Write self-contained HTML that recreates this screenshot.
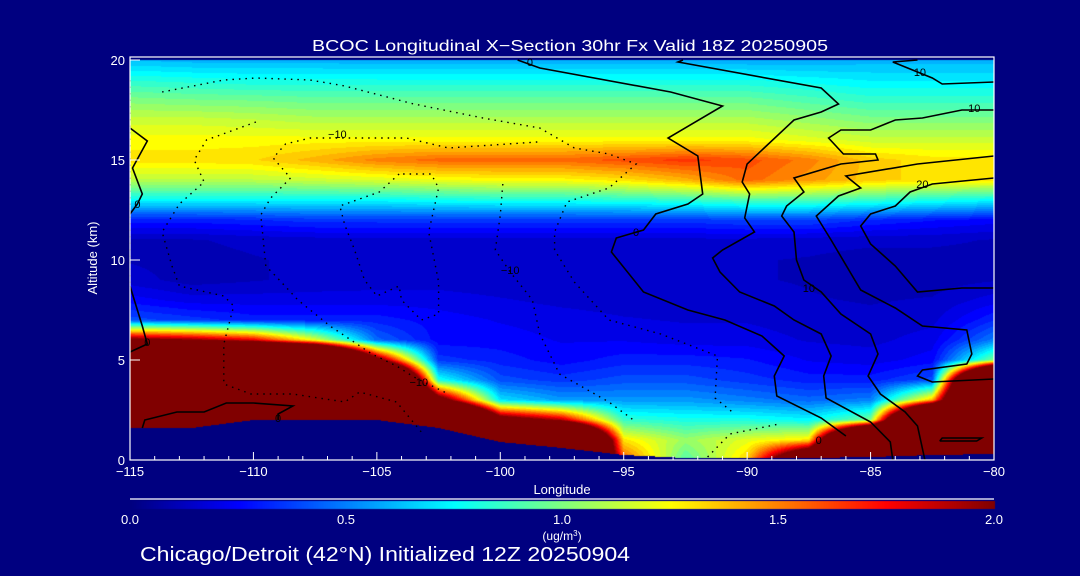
<!DOCTYPE html>
<html><head><meta charset="utf-8">
<style>
html,body{margin:0;padding:0;background:#000080;}
#wrap{position:relative;width:1080px;height:576px;background:#000080;overflow:hidden;font-family:"Liberation Sans",sans-serif;color:#fff;}
canvas{position:absolute;left:0;top:0;}
svg{position:absolute;left:0;top:0;}
</style></head>
<body>
<div id="wrap">
<canvas id="field" width="1080" height="576"></canvas>
<svg id="ov" width="1080" height="576"></svg>
</div>
<script>
const lons = [-115,-112.5,-110,-107.5,-105,-102.5,-100,-97.5,-95,-92.5,-90,-87.5,-85,-82.5,-80];
const alts = [0,1,2,3,4,5,6,7,8,9,10,11,12,13,14,15,16,17,18,19,20];
const conc = [
[5,5,5,5,5,5,2.1,0.4,0.25,0.15,0.12,0.12,0.3,0.75,1.12,1.3,1.25,1.15,1.0,0.82,0.62],
[5,5,5,5,5,5,2.0,0.35,0.2,0.1,0.1,0.12,0.3,0.75,1.12,1.3,1.25,1.15,0.98,0.8,0.6],
[5,5,5,5,5,5,1.8,0.3,0.2,0.12,0.12,0.14,0.32,0.75,1.12,1.32,1.25,1.13,0.97,0.78,0.6],
[5,5,5,5,5,5,1.2,0.3,0.2,0.14,0.14,0.15,0.35,0.75,1.15,1.4,1.25,1.1,0.95,0.78,0.6],
[5,5,5,5,5,2.2,0.45,0.3,0.2,0.15,0.14,0.15,0.35,0.75,1.18,1.5,1.25,1.1,0.95,0.78,0.58],
[5,5,5,2.3,0.8,0.35,0.25,0.25,0.2,0.15,0.14,0.16,0.35,0.78,1.22,1.55,1.25,1.1,0.95,0.78,0.58],
[5,5,2.3,0.7,0.4,0.3,0.25,0.22,0.18,0.14,0.14,0.16,0.35,0.8,1.25,1.55,1.25,1.1,0.95,0.78,0.58],
[5,5,1.9,0.55,0.35,0.25,0.22,0.2,0.16,0.14,0.14,0.16,0.35,0.8,1.25,1.55,1.25,1.1,0.95,0.78,0.58],
[1.6,1.3,0.85,0.55,0.4,0.3,0.22,0.18,0.15,0.13,0.13,0.16,0.35,0.82,1.3,1.6,1.25,1.1,0.95,0.78,0.58],
[0.9,1.05,0.8,0.55,0.4,0.3,0.2,0.17,0.15,0.13,0.13,0.16,0.35,0.85,1.4,1.65,1.25,1.1,0.95,0.78,0.58],
[1.35,1.2,0.8,0.5,0.35,0.28,0.2,0.17,0.15,0.13,0.13,0.16,0.38,0.9,1.55,1.6,1.25,1.1,0.95,0.78,0.58],
[3,1.3,0.75,0.45,0.3,0.22,0.17,0.15,0.13,0.12,0.12,0.15,0.38,0.9,1.45,1.5,1.2,1.05,0.9,0.75,0.58],
[5,5,1.0,0.5,0.3,0.2,0.16,0.14,0.12,0.1,0.1,0.14,0.32,0.85,1.35,1.35,1.15,1.0,0.85,0.72,0.6],
[5,5,5,1.4,0.4,0.25,0.2,0.16,0.13,0.1,0.1,0.14,0.28,0.8,1.3,1.3,1.15,1.0,0.85,0.72,0.6],
[5,5,5,5,5,1.0,0.5,0.32,0.2,0.12,0.1,0.12,0.25,0.75,1.3,1.3,1.15,1.0,0.85,0.72,0.6]
];
const terrain = [1.6,1.6,2.0,2.0,2.0,1.6,0.9,0.6,0.25,0.1,0.1,0.1,0.15,0.25,0.3];
const xTicks = [-115,-110,-105,-100,-95,-90,-85,-80];
const yTicks = [0,5,10,15,20];
const cbTicks = [0.0,0.5,1.0,1.5,2.0];
const solidLines = [
[[-99.3,20],[-98.4,19.6],[-93.1,18.4],[-91.0,17.7],[-93.2,16.1],[-92.0,15.2],[-91.8,13.3],[-92.4,12.8],[-93.7,12.3],[-94.2,11.5],[-95.3,11.1],[-95.5,10.4],[-94.2,8.4],[-92.4,7.5],[-90.9,7.0],[-89.4,6.2],[-88.5,5.2],[-88.9,4.2],[-88.8,3.2],[-87.0,2.1],[-86.0,1.2]],
[[-92.6,20],[-92.8,19.9],[-87.0,18.6],[-86.3,17.8],[-87.0,17.4],[-88.1,17.0],[-90.0,14.8],[-90.2,13.9],[-89.9,13.3],[-90.1,12.1],[-89.7,11.4],[-91.0,10.5],[-91.4,10.1],[-91.1,9.4],[-90.3,8.4],[-88.9,7.7],[-88.1,7.0],[-87.0,6.3],[-86.6,5.2],[-86.9,4.2],[-86.8,3.1],[-85.0,1.9],[-84.2,0.9],[-84.1,0]],
[[-80,17.5],[-81.3,17.5],[-82.9,17.1],[-84.0,17.0],[-85.0,16.5],[-86.2,16.5],[-86.7,16.1],[-86.1,15.3],[-84.8,15.3],[-84.7,15.0],[-86.2,14.8],[-88.1,14.1],[-87.7,13.4],[-88.4,12.7],[-88.6,12.2],[-88.1,11.4],[-88.0,10.0],[-87.7,9.0],[-87.0,8.4],[-86.2,7.3],[-85.0,6.3],[-84.7,5.3],[-85.1,4.2],[-84.6,3.3],[-83.6,2.4],[-83.1,1.7],[-82.8,0]],
[[-80,15.2],[-83.1,14.8],[-86.0,14.2],[-85.4,13.6],[-86.3,13.2],[-87.2,12.2],[-86.6,11.0],[-85.4,8.5],[-84.0,7.6],[-82.9,6.7],[-81.1,6.5],[-80.9,5.3],[-81.1,4.8],[-82.9,4.5],[-83.1,4.2],[-82.5,3.9],[-80,4.05]],
[[-80,14.1],[-82.5,13.8],[-83.4,13.4],[-84.0,12.7],[-85.0,12.3],[-85.4,11.7],[-85.0,10.8],[-84.0,9.7],[-83.1,8.4],[-81.3,8.6],[-80,8.6]],
[[-80,18.9],[-82.1,18.8],[-82.5,19.1],[-84.0,19.85],[-84.1,19.9],[-83.1,20]],
[[-115,16.6],[-114.3,15.95],[-114.9,14.6],[-114.5,13.3],[-114.7,12.8],[-115,12.3]],
[[-115,8.7],[-114.5,6.7],[-114.3,5.8],[-115,5.4]],
[[-114.5,1.6],[-114.4,2.0],[-113.1,2.4],[-112.0,2.4],[-111.1,2.85],[-110.0,2.85],[-108.4,2.7],[-109.0,2.3],[-109.0,2.0]],
[[-82.2,0.95],[-80.7,0.95],[-80.5,1.1],[-82.1,1.1],[-82.2,0.95]]
];
const dottedLines = [
[[-113.7,18.4],[-111.2,19.0],[-109.9,19.1],[-107.7,19.0],[-106.3,18.7],[-103.5,17.8],[-100.7,17.1],[-98.4,16.6],[-97.0,15.6],[-95.6,15.3],[-94.5,14.8],[-95.6,13.6],[-97.3,12.9],[-97.8,11.4],[-97.8,10.5],[-97.0,8.9],[-95.6,7.0],[-93.5,6.3],[-91.2,5.2],[-91.3,3.1],[-90.6,2.4]],
[[-109.9,16.9],[-111.9,16.0],[-112.4,15.0],[-112.0,13.9],[-113.0,12.8],[-113.7,11.4],[-113.3,9.7],[-113.0,8.7],[-111.2,8.2],[-110.8,7.7],[-111.2,5.8],[-111.2,3.8],[-110.1,3.3],[-108.4,3.3],[-106.3,2.9],[-105.7,3.4],[-104.2,2.9],[-103.2,1.4]],
[[-98.5,15.9],[-102.1,15.6],[-103.8,16.1],[-107.7,16.1],[-108.7,15.8],[-109.2,15.1],[-108.5,14.1],[-109.3,13.1],[-109.7,12.25],[-109.5,9.7],[-109.1,9.2],[-108.2,8.0],[-106.9,6.7],[-105.2,5.3],[-104.2,4.7],[-103.5,4.15],[-102.1,3.3]],
[[-104.1,14.3],[-104.9,13.4],[-106.5,12.7],[-106.3,11.75],[-105.9,10.5],[-105.5,9.0],[-105.0,8.2],[-104.1,8.7],[-104.0,8.0],[-103.2,7.0],[-102.5,7.3],[-102.5,8.9],[-102.9,11.4],[-102.5,13.6],[-102.8,14.3],[-104.1,14.3]],
[[-99.9,13.8],[-100.0,12.25],[-100.2,10.5],[-99.6,9.4],[-98.7,8.0],[-98.4,6.3],[-97.6,4.3],[-95.6,2.9],[-94.5,1.9]],
[[-91.6,0.15],[-90.7,1.3],[-88.7,1.8]],
[[-115,19.0],[-115,8.7]]
];
const contourLabels = [
["0",-98.8,19.9],["−10",-106.6,16.3],["10",-80.8,17.6],["10",-83.0,19.4],["20",-82.9,13.8],
["0",-94.5,11.4],["0",-87.1,1.0],["−10",-103.3,3.9],["10",-87.5,8.6],["0",-114.7,12.8],["0",-114.3,5.9],["0",-109.0,2.1],["−10",-99.6,9.5]
];

const X0=130, X1=994, Y0=460, Y1=60, FRAME_TOP=57;
function xs(lon){return X0+(lon-(-115))/35*(X1-X0);}
function ys(km){return Y0-(km/20)*(Y0-Y1);}
function jet(v){
  let t=Math.max(0,Math.min(1,v/2));
  const c=a=>Math.round(255*Math.max(0,Math.min(1,a)));
  return [c(1.5-Math.abs(4*t-3)),c(1.5-Math.abs(4*t-2)),c(1.5-Math.abs(4*t-1))];
}
function valAt(lon,km){
  let fi=(lon-lons[0])/(lons[1]-lons[0]);
  fi=Math.max(0,Math.min(lons.length-1.0001,fi));
  const i=Math.floor(fi), fx=fi-i;
  let fj=(km-alts[0])/(alts[1]-alts[0]);
  fj=Math.max(0,Math.min(alts.length-1.0001,fj));
  const j=Math.floor(fj), fy=fj-j;
  const a=conc[i][j],b=conc[i+1][j],c=conc[i][j+1],d=conc[i+1][j+1];
  return (a*(1-fx)+b*fx)*(1-fy)+(c*(1-fx)+d*fx)*fy;
}
function terrAt(lon){
  let fi=(lon-lons[0])/(lons[1]-lons[0]);
  fi=Math.max(0,Math.min(lons.length-1.0001,fi));
  const i=Math.floor(fi), fx=fi-i;
  return terrain[i]*(1-fx)+terrain[i+1]*fx;
}
const cv=document.getElementById('field'); const ctx=cv.getContext('2d');
const w=X1-X0, h=Y0-Y1;
const img=ctx.createImageData(w,h);
for(let py=0;py<h;py++){
  const km=(Y0-(Y1+py+0.5))/(Y0-Y1)*20;
  for(let px=0;px<w;px++){
    const lon=-115+(px+0.5)/w*35;
    let rgb;
    if(km<terrAt(lon)) rgb=[0,0,128];
    else { let v=valAt(lon,km); v=Math.round(v*20)/20; rgb=jet(v); }
    const k=(py*w+px)*4;
    img.data[k]=rgb[0];img.data[k+1]=rgb[1];img.data[k+2]=rgb[2];img.data[k+3]=255;
  }
}
ctx.putImageData(img,X0,Y1);
const cb=ctx.createImageData(X1-X0+1,8);
for(let px=0;px<=X1-X0;px++){
  const rgb=jet(px/(X1-X0)*2);
  for(let r=0;r<8;r++){const k=(r*(X1-X0+1)+px)*4;cb.data[k]=rgb[0];cb.data[k+1]=rgb[1];cb.data[k+2]=rgb[2];cb.data[k+3]=255;}
}
ctx.putImageData(cb,X0,501);

const NS='http://www.w3.org/2000/svg';
const ov=document.getElementById('ov');
function mk(tag,attrs,parent){const e=document.createElementNS(NS,tag);for(const k in attrs)e.setAttribute(k,attrs[k]);(parent||ov).appendChild(e);return e;}
function pts(line){return line.map(p=>xs(p[0]).toFixed(1)+','+ys(p[1]).toFixed(1)).join(' ');}
solidLines.forEach(l=>{const e=mk('polyline',{points:pts(l),fill:'none',stroke:'#000','stroke-width':1.6});

});
dottedLines.forEach(l=>{const e=mk('polyline',{points:pts(l),fill:'none',stroke:'#000','stroke-width':1.4,'stroke-dasharray':'1.5 5'});

});
contourLabels.forEach(c=>{const t=mk('text',{x:xs(c[1]),y:ys(c[2])+4,'font-size':11,'text-anchor':'middle',fill:'#000','font-family':'Liberation Sans, sans-serif'});t.textContent=c[0];

});
const fr=mk('rect',{x:X0,y:FRAME_TOP,width:X1-X0,height:Y0-FRAME_TOP,fill:'none',stroke:'#fff','stroke-width':1.2});


for(let lon=-115;lon<=-80;lon++){
  const major=(lon%5===0);
  const e=mk('line',{x1:xs(lon),x2:xs(lon),y1:Y0,y2:Y0-(major?8:4),stroke:'#fff','stroke-width':1});
  
  
}
xTicks.forEach(v=>{const t=mk('text',{x:xs(v),y:476,'font-size':13,'text-anchor':'middle',fill:'#fff'});t.textContent=(v<0?'−':'')+Math.abs(v);

});
yTicks.forEach(v=>{const e=mk('line',{x1:X0,x2:X0+10,y1:ys(v),y2:ys(v),stroke:'#fff','stroke-width':1});


const t=mk('text',{x:X0-5,y:ys(v)+5,'font-size':13,'text-anchor':'end',fill:'#fff'});t.textContent=v;

});
const cbl=mk('line',{x1:X0,x2:X1,y1:499,y2:499,stroke:'#fff','stroke-width':1.2});


cbTicks.forEach(v=>{const t=mk('text',{x:X0+v/2*(X1-X0),y:524,'font-size':13,'text-anchor':'middle',fill:'#fff'});t.textContent=v.toFixed(1);

});
</script>
<svg width="1080" height="576" style="position:absolute;left:0;top:0;pointer-events:none">
<text x="312" y="51" font-size="16" textLength="516" lengthAdjust="spacingAndGlyphs" fill="#fff" font-family="Liberation Sans, sans-serif">BCOC Longitudinal X−Section 30hr  Fx Valid 18Z 20250905</text>
<text x="562" y="494" font-size="13" text-anchor="middle" fill="#fff" font-family="Liberation Sans, sans-serif">Longitude</text>
<text x="97" y="258" font-size="13" text-anchor="middle" fill="#fff" font-family="Liberation Sans, sans-serif" transform="rotate(-90 97 258)">Altitude (km)</text>
<text x="562" y="540" font-size="12" text-anchor="middle" fill="#fff" font-family="Liberation Sans, sans-serif">(ug/m<tspan baseline-shift="super" font-size="8">3</tspan>)</text>
<text x="140" y="561" font-size="20" textLength="490" lengthAdjust="spacingAndGlyphs" fill="#fff" font-family="Liberation Sans, sans-serif">Chicago/Detroit (42°N) Initialized 12Z 20250904</text>
</svg>
</body></html>
